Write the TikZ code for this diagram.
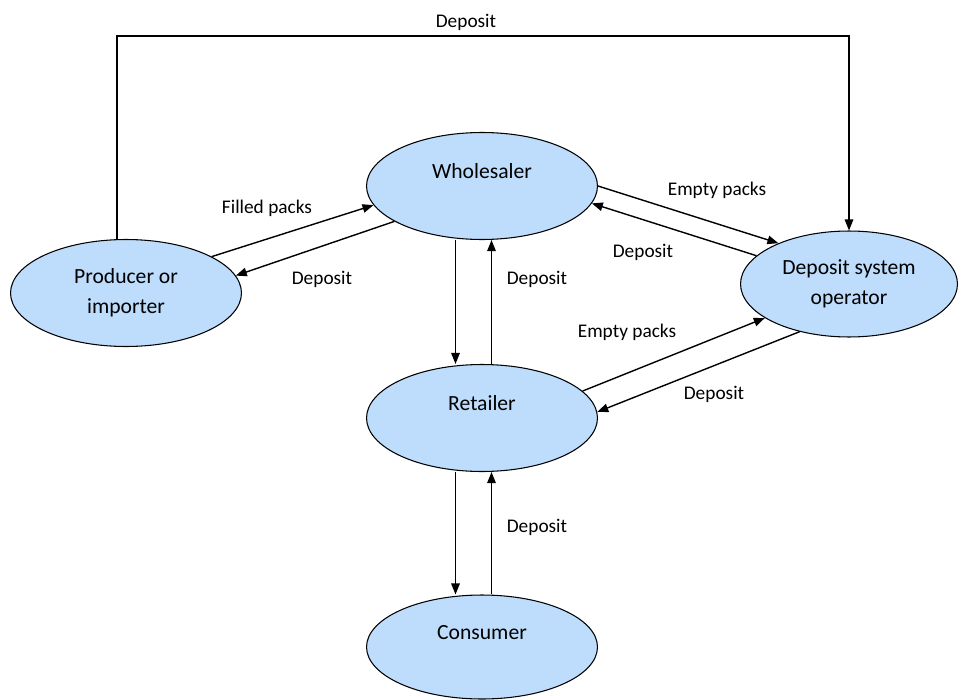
\documentclass[tikz,border=0pt]{standalone}
\usepackage{fontspec}
\setmainfont{Carlito}
\usetikzlibrary{shapes.geometric,arrows.meta}
\definecolor{packblue}{RGB}{190,221,252}

\tikzstyle{party}=[draw, ellipse, fill=packblue, line width=0.6pt, minimum width=4.62cm, minimum height=2.14cm, align=center, font=\fontsize{12.3}{17}\selectfont]
\tikzstyle{flow}=[-{Triangle[length=2.2mm,width=1.7mm]}, line width=0.8pt]
\tikzstyle{note}=[font=\fontsize{11}{13}\selectfont]

\begin{document}
\begin{tikzpicture}[x=0.02cm, y=-0.02cm]
\useasboundingbox (0,0) rectangle (959,699);
\draw (126,293) node[party](prod){Producer or\\importer};
\draw (482,186) node[party](whole){Wholesaler\\\mbox{}};
\draw (849,284) node[party, minimum width=4.34cm, minimum height=2.12cm](dso){Deposit system\\operator};
\draw (482,418) node[party](ret){Retailer\\\mbox{}};
\draw (482,647) node[party, minimum height=2.08cm](cons){Consumer\\\mbox{}};
%
\coordinate (top) at (483,36);
\draw[flow] ([xshift=-0.18cm]prod.north) |- (top) -| (dso.north);
\draw (466,22) node[note](lbltop){Deposit};
%
\draw[flow] (prod.23) -- (whole.190);
\draw[flow] (whole.202) -- (prod.9);
\draw (267,208) node[note](lblfill){Filled packs};
\draw (322,279) node[note](lblprod){Deposit};
%
\draw[flow] (whole.0) -- (dso.150);
\draw[flow] (dso.163) -- (whole.351);
\draw (717,190) node[note](lblempty1){Empty packs};
\draw (643,252) node[note](lbldso1){Deposit};
%
\draw[flow] ([xshift=-0.53cm]whole.south) -- ([xshift=-0.53cm]ret.north);
\draw[flow] ([xshift=0.19cm]ret.north) -- ([xshift=0.19cm]whole.south);
\draw (537,279) node[note](lblret){Deposit};
%
\draw[flow] (ret.15) -- (dso.202);
\draw[flow] (dso.224) -- (ret.3);
\draw (627,332) node[note](lblempty2){Empty packs};
\draw (714,394) node[note](lbldso2){Deposit};
%
\draw[flow] ([xshift=-0.53cm]ret.south) -- ([xshift=-0.53cm]cons.north);
\draw[flow] ([xshift=0.19cm]cons.north) -- ([xshift=0.19cm]ret.south);
\draw (537,527) node[note](lblcons){Deposit};
\end{tikzpicture}
\end{document}
